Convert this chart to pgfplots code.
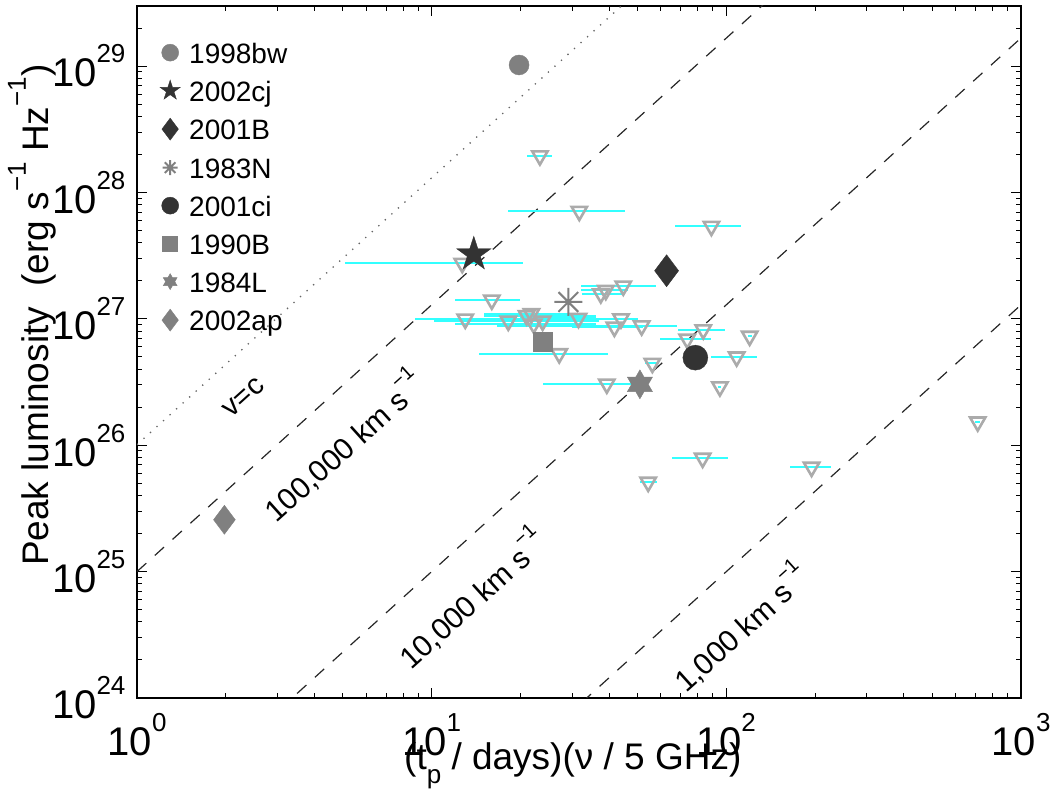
\documentclass[border=0pt]{standalone}
\usepackage{fontspec}
\setmainfont{Liberation Sans}
\usepackage{pgfplots}
\usepackage{pgfplotstable}
\pgfplotsset{compat=1.18}
\definecolor{mgray}{HTML}{808080}
\definecolor{dgray}{HTML}{333333}
\definecolor{tgray}{HTML}{ABABAB}
\definecolor{cbar}{HTML}{33FFFF}
\newcommand\tsup[2][26]{\raisebox{0.6em}{\fontsize{#1}{#1}\selectfont #2}}
\newcommand\lf{\fontsize{28}{28}\selectfont}

\pgfdeclareplotmark{dtri}{%
 \pgfpathmoveto{\pgfqpointpolar{270}{\pgfplotmarksize}}%
 \pgfpathlineto{\pgfqpointpolar{30}{\pgfplotmarksize}}%
 \pgfpathlineto{\pgfqpointpolar{150}{\pgfplotmarksize}}%
 \pgfpathclose\pgfusepathqstroke}
\pgfdeclareplotmark{fivestar}{%
 \pgfpathmoveto{\pgfqpointpolar{90}{\pgfplotmarksize}}%
 \pgfpathlineto{\pgfqpointpolar{126}{0.382\pgfplotmarksize}}%
 \pgfpathlineto{\pgfqpointpolar{162}{\pgfplotmarksize}}%
 \pgfpathlineto{\pgfqpointpolar{198}{0.382\pgfplotmarksize}}%
 \pgfpathlineto{\pgfqpointpolar{234}{\pgfplotmarksize}}%
 \pgfpathlineto{\pgfqpointpolar{270}{0.382\pgfplotmarksize}}%
 \pgfpathlineto{\pgfqpointpolar{306}{\pgfplotmarksize}}%
 \pgfpathlineto{\pgfqpointpolar{342}{0.382\pgfplotmarksize}}%
 \pgfpathlineto{\pgfqpointpolar{18}{\pgfplotmarksize}}%
 \pgfpathlineto{\pgfqpointpolar{54}{0.382\pgfplotmarksize}}%
 \pgfpathclose\pgfusepathqfillstroke}
\pgfdeclareplotmark{hexstar}{%
 \pgfpathmoveto{\pgfqpointpolar{90}{\pgfplotmarksize}}%
 \pgfpathlineto{\pgfqpointpolar{120}{0.577\pgfplotmarksize}}%
 \pgfpathlineto{\pgfqpointpolar{150}{\pgfplotmarksize}}%
 \pgfpathlineto{\pgfqpointpolar{180}{0.577\pgfplotmarksize}}%
 \pgfpathlineto{\pgfqpointpolar{210}{\pgfplotmarksize}}%
 \pgfpathlineto{\pgfqpointpolar{240}{0.577\pgfplotmarksize}}%
 \pgfpathlineto{\pgfqpointpolar{270}{\pgfplotmarksize}}%
 \pgfpathlineto{\pgfqpointpolar{300}{0.577\pgfplotmarksize}}%
 \pgfpathlineto{\pgfqpointpolar{330}{\pgfplotmarksize}}%
 \pgfpathlineto{\pgfqpointpolar{0}{0.577\pgfplotmarksize}}%
 \pgfpathlineto{\pgfqpointpolar{30}{\pgfplotmarksize}}%
 \pgfpathlineto{\pgfqpointpolar{60}{0.577\pgfplotmarksize}}%
 \pgfpathclose\pgfusepathqfillstroke}
\pgfdeclareplotmark{ast8}{%
 \pgfpathmoveto{\pgfqpointpolar{0}{\pgfplotmarksize}}\pgfpathlineto{\pgfqpointpolar{180}{\pgfplotmarksize}}%
 \pgfpathmoveto{\pgfqpointpolar{45}{\pgfplotmarksize}}\pgfpathlineto{\pgfqpointpolar{225}{\pgfplotmarksize}}%
 \pgfpathmoveto{\pgfqpointpolar{90}{\pgfplotmarksize}}\pgfpathlineto{\pgfqpointpolar{270}{\pgfplotmarksize}}%
 \pgfpathmoveto{\pgfqpointpolar{135}{\pgfplotmarksize}}\pgfpathlineto{\pgfqpointpolar{315}{\pgfplotmarksize}}%
 \pgfusepathqstroke}

\pgfplotsset{limg/.style={legend image code/.code={\path[draw=none,fill=none] (0pt,0pt) -- (29pt,0pt);\draw[mark repeat=2,mark phase=2,##1] plot coordinates {(0pt,0pt) (10pt,0pt) (20pt,0pt)};}}}

% upper limits: x, y, minus / plus extent of the horizontal range
\pgfplotstableread{
x y em ep
23.3 1.95e28 2.2 2.4
31.7 7.1e27 13.6 13.6
89 5.4e27 22 23
12.7 2.75e27 7.62 7.7
16.0 1.41e27 4 4
13.0 9.96e26 4.2 23
18.2 9.6e26 8.0 18.8
21.0 1.06e27 5.9 15
21.8 1.1e27 6.8 11.2
22.2 9.1e26 10.2 13.8
23.8 9.6e26 10.8 13.2
31.5 1.01e27 11.5 4.5
37.5 1.58e27 5.2 7
39.0 1.68e27 6.9 7.4
44.7 1.82e27 12.6 13
43.9 1.0e27 8.9 6.1
41.7 8.6e26 11.7 10.3
51.6 8.8e26 34.9 16.4
27.1 5.3e26 12.6 12.6
56.1 4.45e26 3.1 2.9
39.3 3.05e26 15.4 10.3
73.7 6.9e26 14.2 14.7
83.5 8.2e26 14.8 15.4
120 7.3e26 2 2
108.4 5.0e26 19.9 18.6
95.1 2.9e26 1.1 0.9
83.1 7.9e25 17.9 17.9
54.3 5.1e25 3.4 3.7
194.7 6.7e25 29.7 31.3
713 1.53e26 13 13
}\lims

\begin{document}
\begin{tikzpicture}
\begin{axis}[
  at={(0pt,0pt)}, anchor=south west,
  scale only axis, width=884pt, height=692pt,
  xmode=log, ymode=log,
  xmin=1, xmax=1000, ymin=1e24, ymax=2.99e29,
  xtick={1,10,100,1000},
  xticklabels={10\tsup{0},10\tsup{1},10\tsup{2},10\tsup{3}},
  minor xtick={2,3,4,5,6,7,8,9,20,30,40,50,60,70,80,90,200,300,400,500,600,700,800,900},
  ytick={1e24,1e25,1e26,1e27,1e28,1e29},
  yticklabels={10\tsup{24},10\tsup{25},10\tsup{26},10\tsup{27},10\tsup{28},10\tsup{29}},
  minor ytick={2e24,3e24,4e24,5e24,6e24,7e24,8e24,9e24,2e25,3e25,4e25,5e25,6e25,7e25,8e25,9e25,2e26,3e26,4e26,5e26,6e26,7e26,8e26,9e26,2e27,3e27,4e27,5e27,6e27,7e27,8e27,9e27,2e28,3e28,4e28,5e28,6e28,7e28,8e28,9e28,2e29},
  tick align=inside,
  major tick length=10pt, minor tick length=5pt,
  every tick/.style={black, line width=1pt},
  axis line style={line width=1.2pt},
  tick label style={font=\fontsize{40}{40}\selectfont},
  xticklabel style={yshift=-12pt},
  yticklabel style={xshift=-8pt},
  xlabel={(t\raisebox{-0.4em}{\fontsize{26}{26}\selectfont p} / days)(ν / 5 GHz)},
  ylabel={Peak luminosity\ \ (erg s\tsup[26]{−1} Hz\tsup[26]{−1})},
  xlabel style={at={(axis description cs:0.493,-0.098)}, anchor=center, font=\fontsize{37}{37}\selectfont},
  ylabel style={at={(axis description cs:-0.119,0.553)}, anchor=center, font=\fontsize{37}{37}\selectfont},
  legend style={at={(axis description cs:0.026,0.948)}, anchor=north west, draw=none, fill=none, inner sep=0pt,
    font=\lf, row sep=17pt, column sep=0pt,
    nodes={inner sep=0pt, text height=21pt, text depth=0pt, font=\lf}},
  legend cell align=left,
]
% reference lines
\addplot[black!60, line width=1.3pt, dash pattern=on 1.3pt off 7.5pt, forget plot] coordinates {(1,1.01e26) (1000,2.18e32)};
\addplot[black!85, line width=1.2pt, dash pattern=on 12.5pt off 11.5pt, forget plot] coordinates {(1,1e25) (1000,2.15e31)};
\addplot[black!85, line width=1.2pt, dash pattern=on 12.5pt off 11.5pt, forget plot] coordinates {(1,7.74e22) (1000,1.668e29)};
\addplot[black!85, line width=1.2pt, dash pattern=on 12.5pt off 11.5pt, forget plot] coordinates {(1,6.0e20) (1000,1.29e27)};

% ranges and upper limits
\addplot[draw=none, mark=none, forget plot, error bars/.cd, x dir=both, x explicit, error mark=none,
  error bar style={draw=cbar, line width=2pt, solid}] table[x=x,y=y,x error plus=ep,x error minus=em]{\lims};
\addplot[only marks, mark=dtri, mark size=8.8pt, mark options={draw=tgray, line width=2.6pt, solid}, forget plot] table[x=x,y=y]{\lims};

% supernovae
\addplot[only marks, mark=*, mark size=10pt, mark options={draw=mgray, fill=mgray}, forget plot] coordinates {(19.8,1.02e29)};
\addplot[only marks, mark=fivestar, mark size=18pt, mark options={draw=dgray, fill=dgray}, forget plot] coordinates {(13.9,3.24e27)};
\addplot[only marks, mark=diamond*, mark size=16pt, mark options={draw=dgray, fill=dgray}, forget plot] coordinates {(62.7,2.4e27)};
\addplot[only marks, mark=ast8, mark size=14pt, mark options={draw=mgray, line width=2pt}, forget plot] coordinates {(29.1,1.36e27)};
\addplot[only marks, mark=*, mark size=12.5pt, mark options={draw=dgray, fill=dgray}, forget plot] coordinates {(78.5,4.93e26)};
\addplot[only marks, mark=square*, mark size=9.3pt, mark options={draw=mgray, fill=mgray}, forget plot] coordinates {(23.8,6.56e26)};
\addplot[only marks, mark=hexstar, mark size=14.5pt, mark options={draw=mgray, fill=mgray}, forget plot] coordinates {(50.9,3.03e26)};
\addplot[only marks, mark=diamond*, mark size=14.5pt, mark options={draw=mgray, fill=mgray}, forget plot] coordinates {(1.98,2.57e25)};

% legend
\addlegendimage{only marks, mark=*, mark size=8.5pt, mark options={draw=mgray, fill=mgray}, limg}
\addlegendentry{\lf 1998bw}
\addlegendimage{only marks, mark=fivestar, mark size=10.5pt, mark options={draw=dgray, fill=dgray}, limg}
\addlegendentry{\lf 2002cj}
\addlegendimage{only marks, mark=diamond*, mark size=11pt, mark options={draw=dgray, fill=dgray}, limg}
\addlegendentry{\lf 2001B}
\addlegendimage{only marks, mark=ast8, mark size=7.5pt, mark options={draw=mgray, line width=2pt}, limg}
\addlegendentry{\lf 1983N}
\addlegendimage{only marks, mark=*, mark size=8.5pt, mark options={draw=dgray, fill=dgray}, limg}
\addlegendentry{\lf 2001ci}
\addlegendimage{only marks, mark=square*, mark size=7.5pt, mark options={draw=mgray, fill=mgray}, limg}
\addlegendentry{\lf 1990B}
\addlegendimage{only marks, mark=hexstar, mark size=8pt, mark options={draw=mgray, fill=mgray}, limg}
\addlegendentry{\lf 1984L}
\addlegendimage{only marks, mark=diamond*, mark size=11pt, mark options={draw=mgray, fill=mgray}, limg}
\addlegendentry{\lf 2002ap}

% line labels
\node[rotate=42, font=\fontsize{29}{29}\selectfont] at (axis cs:2.30,2.37e26) {v=c};
\node[rotate=42, font=\fontsize{30}{30}\selectfont] at (axis cs:4.98,1.0e26) {100,000 km s\tsup[20]{−1}};
\node[rotate=42, font=\fontsize{30}{30}\selectfont] at (axis cs:13.6,6.2e24) {10,000 km s\tsup[20]{−1}};
\node[rotate=42, font=\fontsize{30}{30}\selectfont] at (axis cs:111,3.66e24) {1,000 km s\tsup[20]{−1}};
\end{axis}
\pgfresetboundingbox
\useasboundingbox (-137pt,-90pt) rectangle (916pt,698pt);
\end{tikzpicture}
\end{document}
